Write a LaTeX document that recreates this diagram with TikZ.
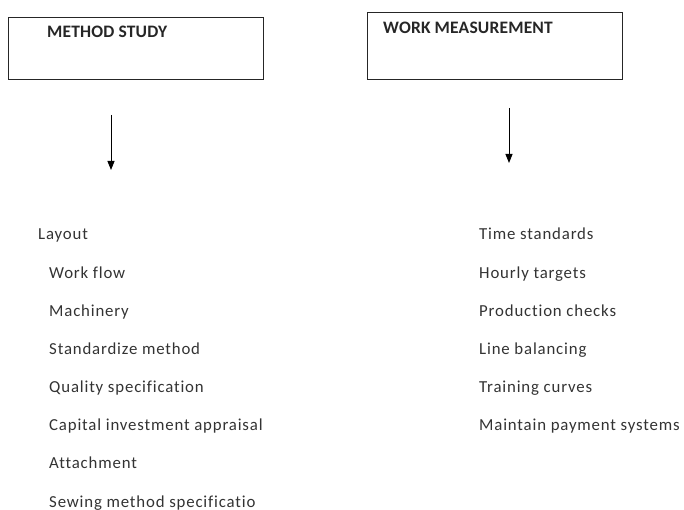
\documentclass[tikz,border=0pt]{standalone}
\usepackage{fontspec}
\setmainfont{Carlito}[Ligatures=NoCommon]
\usetikzlibrary{arrows.meta}
\tikzset{
  head/.style={font=\fontsize{17.5}{18}\selectfont\bfseries\addfontfeature{LetterSpace=1}, anchor=base west, inner sep=0pt, text=black!85},
  item/.style={font=\fontsize{16.8}{17}\selectfont\addfontfeature{LetterSpace=5}, anchor=base west, inner sep=0pt, text=black!80},
  boxline/.style={draw=black!85, line width=1pt},
  arr/.style={draw=black, line width=0.9pt, -{Triangle[length=9pt,width=7pt]}}
}
\begin{document}
\begin{tikzpicture}[x=1pt,y=-1pt]
\useasboundingbox (0,0) rectangle (684,510);
\draw[boxline] (8,18) rectangle (263,80);
\draw[boxline] (367,12.5) rectangle (622,80);
\node[head] (ms) at (47,38) {METHOD STUDY};
\node[head] (wm) at (383,34) {WORK MEASUREMENT};
\coordinate (a1s) at (111,115);
\coordinate (a1e) at (111,170);
\coordinate (a2s) at (509,108);
\coordinate (a2e) at (509,163);
\draw[arr] (a1s) -- (a1e);
\draw[arr] (a2s) -- (a2e);
\node[item] (l0) at (38,240) {Layout};
\node[item] (l1) at (49,278) {Work flow};
\node[item] (l2) at (49,316) {Machinery};
\node[item] (l3) at (49,354) {Standardize method};
\node[item] (l4) at (49,392) {Quality specification};
\node[item] (l5) at (49,430) {Capital investment appraisal};
\node[item] (l6) at (49,468) {Attachment};
\node[item] (l7) at (49,507) {Sewing method specificatio};
\node[item] (r1) at (479,240) {Time standards};
\node[item] (r2) at (479,278) {Hourly targets};
\node[item] (r3) at (479,316) {Production checks};
\node[item] (r4) at (479,354) {Line balancing};
\node[item] (r5) at (479,392) {Training curves};
\node[item] (r6) at (479,430) {Maintain payment systems};
\end{tikzpicture}
\end{document}
